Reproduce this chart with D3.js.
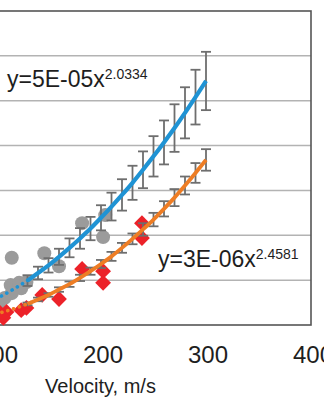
<!DOCTYPE html>
<html><head><meta charset="utf-8">
<script src="https://cdn.jsdelivr.net/npm/d3@7"></script>
<style>html,body{margin:0;padding:0;background:#fff;overflow:hidden}</style>
</head><body><svg id="c" width="324" height="400"></svg>
<script>
// ---- data ----
const xTicks = [100, 200, 300, 400];
const yGrid = [1, 2, 3, 4, 5, 6];

const grayX = [115, 146, 160, 182, 204, 202, 114, 122, 129, 124, 115, 108, 103];
const grayY = [1.50, 1.60, 1.31, 2.27, 2.45, 1.96, 0.89, 0.94, 0.96, 0.82, 0.71, 0.60, 0.51];

const redX = [239, 239, 182, 202, 202, 160, 144, 129, 124, 110, 107, 103];
const redY = [2.27, 1.94, 1.25, 1.20, 0.94, 0.58, 0.67, 0.38, 0.33, 0.29, 0.16, 0.29];

const modelX = [130, 140, 150, 160, 170, 180, 190, 200, 210, 220, 230, 240, 250, 260, 270, 280, 290, 300];
const blueModel = [0.99, 1.16, 1.33, 1.52, 1.72, 1.93, 2.15, 2.39, 2.64, 2.90, 3.17, 3.46, 3.76, 4.07, 4.39, 4.73, 5.08, 5.44];
const blueErr = [0.12, 0.14, 0.16, 0.18, 0.21, 0.23, 0.26, 0.28, 0.31, 0.35, 0.38, 0.41, 0.45, 0.49, 0.53, 0.57, 0.61, 0.65];
const orangeModel = [0.47, 0.57, 0.67, 0.79, 0.91, 1.05, 1.20, 1.36, 1.53, 1.72, 1.92, 2.13, 2.35, 2.59, 2.84, 3.11, 3.39, 3.68];
const orangeErr = [0.03, 0.04, 0.04, 0.05, 0.06, 0.07, 0.08, 0.09, 0.10, 0.11, 0.12, 0.14, 0.15, 0.17, 0.19, 0.20, 0.22, 0.24];

// displayed trendline equations
const blueFitA = 5e-5, blueFitB = 2.0334;
const orangeFitA = 3e-6, orangeFitB = 2.4581;
const trendStart = 100, trendEnd = 134;

const eq1Main = "y=5E-05x", eq1Sup = "2.0334";
const eq2Main = "y=3E-06x", eq2Sup = "2.4581";
const xTitle = "Velocity, m/s";

// ---- drawing ----
const svg = d3.select("#c");
const x = d3.scaleLinear().domain([0, 400]).range([-109, 311]);
const y = d3.scaleLinear().domain([0, 7]).range([325, 11]);
const font = "'Liberation Sans', Arial, sans-serif";
const BLUE = "#1f93d4", ORANGE = "#ee7d24";

// gridlines
svg.append("g").selectAll("line").data(yGrid).join("line")
  .attr("x1", x(0)).attr("x2", x(400))
  .attr("y1", d => y(d)).attr("y2", d => y(d))
  .attr("stroke", "#b3b3b3").attr("stroke-width", 1.5);

// frame
svg.append("rect")
  .attr("x", x(0)).attr("y", y(7))
  .attr("width", x(400) - x(0)).attr("height", y(0) - y(7))
  .attr("fill", "none").attr("stroke", "#555").attr("stroke-width", 1.6);

// x tick labels
svg.append("g").selectAll("text").data(xTicks).join("text")
  .attr("x", d => x(d) + 2).attr("y", 363)
  .attr("text-anchor", "middle")
  .attr("font-family", font).attr("font-size", 24).attr("fill", "#1e1e1e")
  .text(d => d);

svg.append("text").attr("x", 100.5).attr("y", 393).attr("text-anchor", "middle")
  .attr("font-family", font).attr("font-size", 20).attr("fill", "#1e1e1e").text(xTitle);

// markers
const gray = grayX.map((v, i) => [v, grayY[i]]);
svg.append("g").selectAll("circle").data(gray).join("circle")
  .attr("cx", d => x(d[0])).attr("cy", d => y(d[1])).attr("r", 7)
  .attr("fill", "#9b9b9b");

const red = redX.map((v, i) => [v, redY[i]]);
const diamond = d3.symbol().type(d3.symbolSquare).size(125);
svg.append("g").selectAll("path").data(red).join("path")
  .attr("d", diamond)
  .attr("transform", d => `translate(${x(d[0])},${y(d[1])}) rotate(45)`)
  .attr("fill", "#ec2229");

// error bars
function errorBars(vals, errs) {
  const g = svg.append("g").attr("stroke", "#6e6e6e").attr("stroke-width", 1.8);
  modelX.forEach((v, i) => {
    const cx = x(v), t = y(vals[i] + errs[i]), b = y(vals[i] - errs[i]);
    g.append("line").attr("x1", cx).attr("x2", cx).attr("y1", t).attr("y2", b);
    g.append("line").attr("x1", cx - 5).attr("x2", cx + 5).attr("y1", t).attr("y2", t);
    g.append("line").attr("x1", cx - 5).attr("x2", cx + 5).attr("y1", b).attr("y2", b);
  });
}
errorBars(blueModel, blueErr);
errorBars(orangeModel, orangeErr);

// dotted trendline extensions
const line = d3.line().x(d => x(d[0])).y(d => y(d[1]));
function trend(a, b, color) {
  const pts = d3.range(trendStart, trendEnd + 0.5, 1).map(v => [v, a * Math.pow(v, b)]);
  svg.append("path").attr("d", line(pts)).attr("fill", "none")
    .attr("stroke", color).attr("stroke-width", 3.6)
    .attr("stroke-linecap", "round").attr("stroke-dasharray", "0.1 6");
}
trend(blueFitA, blueFitB, BLUE);
trend(orangeFitA, orangeFitB, ORANGE);

// solid model lines
const smooth = d3.line().x(d => x(d[0])).y(d => y(d[1])).curve(d3.curveMonotoneX);
svg.append("path").attr("d", smooth(modelX.map((v, i) => [v, blueModel[i]])))
  .attr("fill", "none").attr("stroke", BLUE).attr("stroke-width", 4.2);
svg.append("path").attr("d", smooth(modelX.map((v, i) => [v, orangeModel[i]])))
  .attr("fill", "none").attr("stroke", ORANGE).attr("stroke-width", 3.8);

// equations
function eq(xp, yp, main, sup) {
  const t = svg.append("text").attr("x", xp).attr("y", yp)
    .attr("font-family", font).attr("fill", "#1e1e1e");
  t.append("tspan").attr("font-size", 23).text(main);
  t.append("tspan").attr("font-size", 14).attr("dy", -8).text(sup);
}
eq(7, 87, eq1Main, eq1Sup);
eq(158, 267, eq2Main, eq2Sup);
</script></body></html>
